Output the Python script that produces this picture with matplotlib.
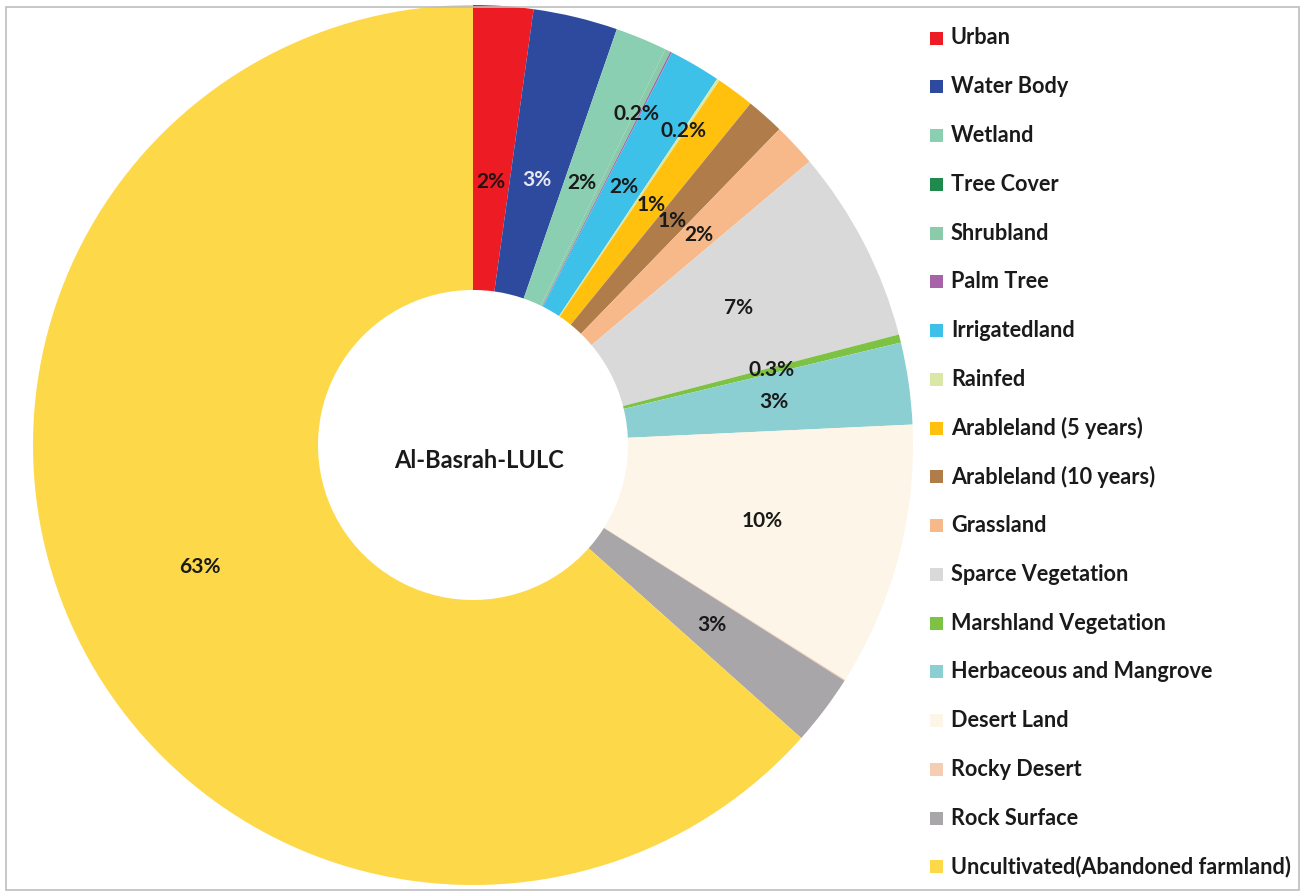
import numpy as np
import matplotlib
matplotlib.use("Agg")
import matplotlib.pyplot as plt
from matplotlib.patches import Rectangle

categories = ["Urban", "Water Body", "Wetland", "Tree Cover", "Shrubland", "Palm Tree",
              "Irrigatedland", "Rainfed", "Arableland (5 years)", "Arableland (10 years)",
              "Grassland", "Sparce Vegetation", "Marshland Vegetation",
              "Herbaceous and Mangrove", "Desert Land", "Rocky Desert", "Rock Surface",
              "Uncultivated(Abandoned farmland)"]
values = [2.2, 3.1, 1.9, 0.0, 0.2, 0.06, 1.9, 0.1, 1.4, 1.4, 1.6, 7.1, 0.3, 3.0, 9.7, 0.04, 2.6, 63.4]
labels = ["2%", "3%", "2%", "", "0.2%", "", "2%", "0.2%", "1%", "1%", "2%", "7%", "0.3%",
          "3%", "10%", "", "3%", "63%"]
colors = ["#ED1C24", "#2E4A9E", "#8ACFB1", "#1F8A4C", "#8ACCAA", "#A862A8", "#3EC1E8",
          "#D9E8A6", "#FFC10E", "#B07D4A", "#F8B98A", "#D9D9D9", "#7DC242", "#8CCFD3",
          "#FDF5E7", "#F4CDB2", "#A8A6A8", "#FDD848"]
center_title = "Al-Basrah-LULC"

# layout (pixel space, y measured from top)
W, H = 1306, 892
cx, cy, R, r_in = 473, 445, 440, 155
label_r = [0.60, 0.62, 0.645, 0.68, 0.84, 0.68, 0.68, 0.86, 0.68, 0.68, 0.70, 0.68, 0.70,
           0.69, 0.68, 0.68, 0.68, 0.68]
label_colors = ["#2a1010", "#e8e6f5"] + ["#1a1a1a"] * 16

font = "Lato"
fig = plt.figure(figsize=(W / 100, H / 100), dpi=100)
ax = fig.add_axes([0, 0, 1, 1])

wedges, _ = ax.pie(values, colors=colors, startangle=90, counterclock=False,
                   center=(cx, H - cy), radius=R, frame=True,
                   wedgeprops=dict(width=R - r_in, linewidth=0, edgecolor="none"))
ax.set_xlim(0, W)
ax.set_ylim(0, H)
ax.set_aspect("equal")
ax.axis("off")

for w, lab, lr, lc in zip(wedges, labels, label_r, label_colors):
    if not lab:
        continue
    mid = np.deg2rad((w.theta1 + w.theta2) / 2)
    x = cx + lr * R * np.cos(mid)
    y = (H - cy) + lr * R * np.sin(mid)
    ax.text(x, y, lab, ha="center", va="center", fontsize=15, fontweight="bold",
            color=lc, family=font)

ax.text(479, H - 461, center_title, ha="center", va="center", fontsize=17,
        fontweight="bold", color="#1a1a1a", family=font)

# legend
y0, dy = 38, 48.76
for i, (name, c) in enumerate(zip(categories, colors)):
    y = H - (y0 + i * dy)
    ax.add_patch(Rectangle((930, y - 6.5), 13, 13, facecolor=c, edgecolor="none"))
    ax.text(951, y, name, ha="left", va="center", fontsize=15.6, fontweight="bold",
            color="#1a1a1a", family=font)

# frame border
ax.add_patch(Rectangle((5.5, 2.5), 1293, 883, facecolor="none", edgecolor="#bdbdbd",
                       linewidth=1.2))

fig.savefig("out.png", dpi=100)
